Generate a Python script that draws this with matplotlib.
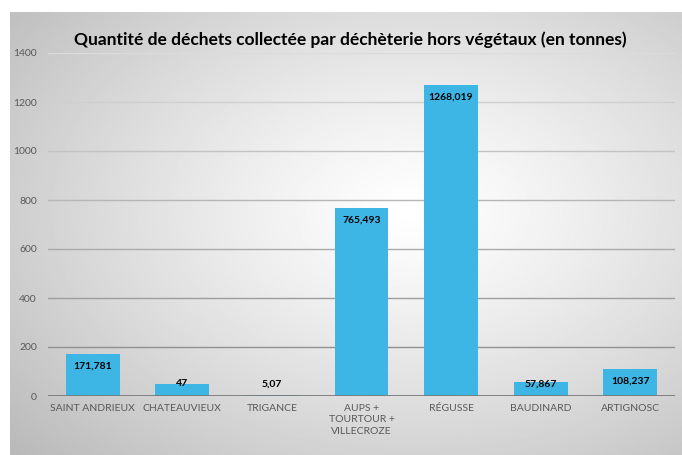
import numpy as np
import matplotlib
matplotlib.use("Agg")
import matplotlib.pyplot as plt

# tonnages per site
sites = ["SAINT ANDRIEUX", "CHATEAUVIEUX", "TRIGANCE", "AUPS +\nTOURTOUR +\nVILLECROZE",
         "RÉGUSSE", "BAUDINARD", "ARTIGNOSC"]
tonnes = [171.781, 47, 5.07, 765.493, 1268.019, 57.867, 108.237]
labels = ["171,781", "47", "5,07", "765,493", "1268,019", "57,867", "108,237"]
yticks = [0, 200, 400, 600, 800, 1000, 1200, 1400]

plt.rcParams['font.family'] = ['Lato', 'DejaVu Sans']

fig = plt.figure(figsize=(6.82, 4.55), dpi=100)

# radial grey background panel
bg = fig.add_axes([10 / 682, 0, 672 / 682, 1 - 12 / 455], zorder=0)
yy, xx = np.mgrid[0:1:300j, 0:1:450j]
r = np.sqrt(((xx - 0.6) / 0.75) ** 2 + ((yy - 0.55) / 0.75) ** 2)
shade = 1 - 0.25 * np.clip(r, 0, 1.2) ** 1.2
bg.imshow(shade, cmap="gray", vmin=0, vmax=1, extent=[0, 1, 0, 1], aspect="auto", origin="lower")
bg.axis("off")

ax = fig.add_axes([48 / 682, 1 - 396 / 455, 627 / 682, 343 / 455], zorder=1)
ax.patch.set_alpha(0)
x = np.arange(len(sites))
ax.bar(x, tonnes, width=0.6, color="#3db6e6", zorder=3)

# gridlines fade out toward the top
for v in yticks[1:]:
    g = 0.52 + 0.34 * (v / 1400)
    ax.axhline(v, color=(g, g, g), lw=1.0, zorder=1)
ax.axhline(0, color="#7a7a7a", lw=1.3, zorder=4)

for xi, v, lab in zip(x, tonnes, labels):
    ax.text(xi, max(v - 49, 49), lab, ha="center", va="center",
            fontsize=7.5, fontweight="bold", color="black", zorder=5)

ax.set_xlim(-0.5, len(sites) - 0.5)
ax.set_ylim(0, 1400)
ax.set_yticks(yticks)
ax.set_xticks(x)
ax.set_xticklabels(sites, fontsize=7.5, color="#595959", linespacing=1.3)
ax.tick_params(axis="y", labelsize=7.5, labelcolor="#595959", length=0, pad=8)
ax.tick_params(axis="x", length=0, pad=6)
for s in ax.spines.values():
    s.set_visible(False)

fig.text(350 / 682, 1 - 40 / 455, "Quantité de déchets collectée par déchèterie hors végétaux (en tonnes)",
         ha="center", va="center", fontsize=12.5, fontweight="bold", color="black")

fig.savefig("out.png", dpi=100)
